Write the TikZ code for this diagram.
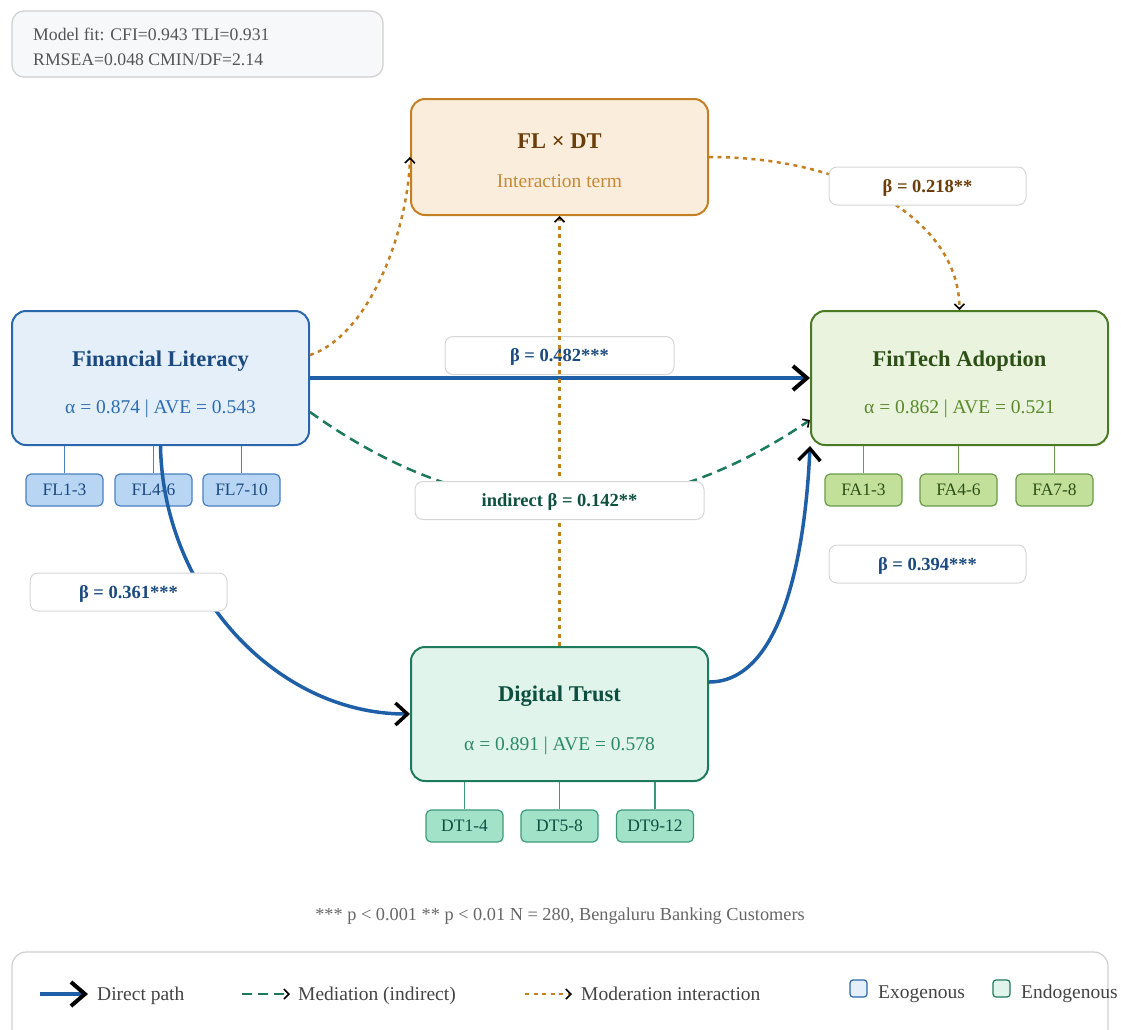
\documentclass[tikz,border=0pt]{standalone}
\usepackage{fontspec}
\setmainfont{Liberation Serif}
\usetikzlibrary{arrows.meta,calc}

\definecolor{flfill}{HTML}{E4EFFA}\definecolor{fldraw}{HTML}{2A66AC}\definecolor{fltitle}{HTML}{1A4A80}\definecolor{flsub}{HTML}{2E6DB0}
\definecolor{fafill}{HTML}{E9F3DD}\definecolor{fadraw}{HTML}{4A7A24}\definecolor{fatitle}{HTML}{2D5016}\definecolor{fasub}{HTML}{5A8A2A}
\definecolor{dtfill}{HTML}{E1F4EC}\definecolor{dtdraw}{HTML}{1E7A5C}\definecolor{dttitle}{HTML}{0D5040}\definecolor{dtsub}{HTML}{2A8A6A}
\definecolor{mxfill}{HTML}{FAEDDB}\definecolor{mxdraw}{HTML}{C47F22}\definecolor{mxtitle}{HTML}{6B3D0A}\definecolor{mxsub}{HTML}{C48A3A}
\definecolor{flind}{HTML}{B8D5F4}\definecolor{faind}{HTML}{C2E09A}\definecolor{dtind}{HTML}{A2E2C9}
\definecolor{flline}{HTML}{4A80C0}\definecolor{faline}{HTML}{6A9A4A}\definecolor{dtline}{HTML}{3A9A7A}
\definecolor{directc}{HTML}{1F5FA8}\definecolor{medc}{HTML}{1A7A5A}\definecolor{modc}{HTML}{C47F22}
\definecolor{lblgray}{HTML}{D6D6D6}\definecolor{textgray}{HTML}{444444}\definecolor{notegray}{HTML}{666666}
\definecolor{fitfill}{HTML}{F7F8F9}\definecolor{fitdraw}{HTML}{CFCFCF}\definecolor{fittxt}{HTML}{555555}

\begin{document}
\begin{tikzpicture}[x=1pt,y=-1pt,
  bigbox/.style={rectangle, rounded corners=14pt, line width=2pt, minimum width=297pt, minimum height=134pt, inner sep=0pt},
  ttl/.style={inner sep=0pt, font=\fontsize{22.5}{27}\selectfont\bfseries, text height=18pt, text depth=3.2pt},
  subt/.style={inner sep=0pt, font=\fontsize{19.5}{23}\selectfont, text height=15.6pt, text depth=2.7pt},
  ind/.style={rectangle, rounded corners=5pt, line width=1.2pt, minimum width=77pt, minimum height=32pt, inner sep=0pt, font=\fontsize{17.5}{21}\selectfont, text height=14pt, text depth=2.4pt},
  lbl/.style={rectangle, rounded corners=8pt, draw=lblgray, fill=white, line width=1pt, minimum height=38pt, inner sep=0pt, font=\fontsize{18.5}{22}\selectfont\bfseries, text height=14.8pt, text depth=2.6pt},
  legtxt/.style={inner sep=0pt, anchor=west, text=textgray, font=\fontsize{19.5}{23}\selectfont, text height=15.6pt, text depth=2.7pt},
  fittxtstyle/.style={inner sep=0pt, anchor=west, text=fittxt, font=\fontsize{17.7}{21}\selectfont, text height=14.2pt, text depth=2.5pt},
  bigtip/.style={-{Straight Barb[length=14pt,width=24pt,line width=4pt,color=black]}},
  midtip/.style={-{Straight Barb[length=12pt,width=22pt,line width=3.5pt,color=black]}},
  smalltip/.style={-{Straight Barb[length=5pt,width=10pt,line width=1.6pt,color=black]}},
  directpath/.style={draw=directc, line width=4.5pt, bigtip},
  curvepath/.style={draw=directc, line width=3.5pt, midtip},
  medpath/.style={draw=medc, line width=2.5pt, dash pattern=on 10pt off 6pt, smalltip},
  modpath/.style={draw=modc, line width=2.5pt, dash pattern=on 4pt off 4.5pt, smalltip},
]
\useasboundingbox (0,0) rectangle (1121,1029);
\clip (0,0) rectangle (1121,1029);

% model fit box
\node[rectangle, rounded corners=12pt, draw=fitdraw, fill=fitfill, line width=1.2pt, minimum width=371pt, minimum height=66pt, inner sep=0pt] (fit) at (197.5,44) {};
\node[fittxtstyle] (fit1) at (33,35) {Model fit: CFI=0.943 TLI=0.931};
\node[fittxtstyle] (fit2) at (33,60) {RMSEA=0.048 CMIN/DF=2.14};

% main constructs
\node[bigbox, draw=mxdraw, fill=mxfill, minimum height=116pt] (fxd) at (559.5,157) {};
\node[ttl, text=mxtitle] (fxdt) at (559.5,141) {FL × DT};
\node[subt, text=mxsub] (fxds) at (559.5,181) {Interaction term};

\node[bigbox, draw=fldraw, fill=flfill] (fl) at (160.5,378) {};
\node[ttl, text=fltitle] (flt) at (160.5,359) {Financial Literacy};
\node[subt, text=flsub] (fls) at (160.5,407) {α = 0.874 | AVE = 0.543};

\node[bigbox, draw=fadraw, fill=fafill] (fa) at (959.5,378) {};
\node[ttl, text=fatitle] (fat) at (959.5,359) {FinTech Adoption};
\node[subt, text=fasub] (fas) at (959.5,407) {α = 0.862 | AVE = 0.521};

\node[bigbox, draw=dtdraw, fill=dtfill] (dt) at (559.5,714) {};
\node[ttl, text=dttitle] (dtt) at (559.5,694) {Digital Trust};
\node[subt, text=dtsub] (dts) at (559.5,744) {α = 0.891 | AVE = 0.578};

% indicators
\node[ind, draw=flline, fill=flind, text=fltitle] (fl1) at (64.5,490) {FL1-3};
\node[ind, draw=flline, fill=flind, text=fltitle] (fl2) at (153.5,490) {FL4-6};
\node[ind, draw=flline, fill=flind, text=fltitle] (fl3) at (241.5,490) {FL7-10};
\foreach \i in {fl1,fl2,fl3} \draw[flline, line width=1.3pt] (fl.south -| \i.north) -- (\i.north);

\node[ind, draw=faline, fill=faind, text=fatitle] (fa1) at (863.5,490) {FA1-3};
\node[ind, draw=faline, fill=faind, text=fatitle] (fa2) at (958.5,490) {FA4-6};
\node[ind, draw=faline, fill=faind, text=fatitle] (fa3) at (1054.5,490) {FA7-8};
\foreach \i in {fa1,fa2,fa3} \draw[faline, line width=1.3pt] (fa.south -| \i.north) -- (\i.north);

\node[ind, draw=dtline, fill=dtind, text=dttitle] (dt1) at (464.5,826) {DT1-4};
\node[ind, draw=dtline, fill=dtind, text=dttitle] (dt2) at (559.5,826) {DT5-8};
\node[ind, draw=dtline, fill=dtind, text=dttitle] (dt3) at (655,826) {DT9-12};
\foreach \i in {dt1,dt2,dt3} \draw[dtline, line width=1.3pt] (dt.south -| \i.north) -- (\i.north);

% direct paths
\draw[directpath] (fl.east) -- (fa.west);
\node[lbl, minimum width=229pt, text=fltitle] (l482) at (559.5,355.5) {β = 0.482***};
\draw[curvepath] (fl.south) .. controls (163,590) and (275,714) .. (dt.west);
\draw[curvepath] ([yshift=32pt]dt.east) .. controls (780,682) and (805,560) .. (fa.south west);

% moderation
\draw[modpath] ([yshift=23pt]fl.east) .. controls (370,335) and (408,230) .. (fxd.west);
\draw[modpath] (dt.north) -- (fxd.south);
\draw[modpath] (fxd.east) .. controls (850,157) and (959,220) .. (fa.north);
\node[lbl, minimum width=197pt, text=mxtitle] (l218) at (927.5,186) {β = 0.218**};

% mediation
\draw[medpath] ([yshift=-34pt]fl.east) .. controls (476,531) and (644,533) .. ([yshift=-42pt]fa.west);
\node[lbl, minimum width=289pt, text=dttitle] (lind) at (559.5,500.5) {indirect β = 0.142**};

\node[lbl, minimum width=197pt, text=fltitle] (l361) at (128.5,592) {β = 0.361***};
\node[lbl, minimum width=197pt, text=fltitle] (l394) at (927.5,564) {β = 0.394***};

% footnote
\node[inner sep=0pt, text=notegray, font=\fontsize{18.3}{22}\selectfont, text height=14.6pt, text depth=2.6pt] (note) at (560,914) {*** p < 0.001 ** p < 0.01 N = 280, Bengaluru Banking Customers};

% legend
\node[rectangle, rounded corners=14pt, draw=fitdraw, fill=white, line width=1.2pt, minimum width=1096pt, minimum height=100pt, inner sep=0pt] (legend) at (560,1002) {};
\coordinate (lga) at (40,994); \coordinate (lgb) at (88,994);
\draw[directpath] (lga) -- (lgb);
\node[legtxt] (lgt1) at (97,994) {Direct path};
\coordinate (lgc) at (242,994); \coordinate (lgd) at (290,994);
\draw[medpath] (lgc) -- (lgd);
\node[legtxt] (lgt2) at (298,994) {Mediation (indirect)};
\coordinate (lge) at (525,994); \coordinate (lgf) at (572,994);
\draw[modpath] (lge) -- (lgf);
\node[legtxt] (lgt3) at (581,994) {Moderation interaction};
\node[rectangle, rounded corners=3pt, draw=fldraw, fill=flfill, line width=1.2pt, minimum width=17pt, minimum height=17pt, inner sep=0pt] (sqx) at (858.5,988.5) {};
\node[legtxt] (lgt4) at (878,992) {Exogenous};
\node[rectangle, rounded corners=3pt, draw=dtdraw, fill=dtfill, line width=1.2pt, minimum width=17pt, minimum height=17pt, inner sep=0pt] (sqn) at (1001.5,988.5) {};
\node[legtxt] (lgt5) at (1021,992) {Endogenous};
\end{tikzpicture}
\end{document}
